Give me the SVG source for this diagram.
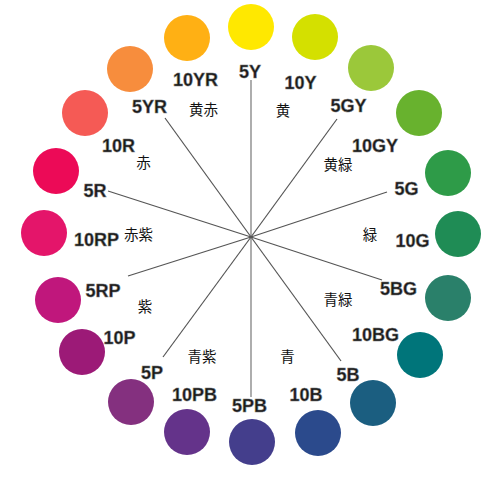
<svg xmlns="http://www.w3.org/2000/svg" width="495" height="478" viewBox="0 0 495 478">
<style>
.lab{font-family:"Liberation Sans",Arial,sans-serif;font-size:18px;font-weight:bold;fill:#1a1a1a;text-anchor:middle;stroke:#777;stroke-width:0.5}
.jp{font-family:"Noto Sans CJK JP","Noto Sans CJK SC",sans-serif;font-size:14.5px;fill:#111;text-anchor:middle}
.ln{stroke:#555;stroke-width:1.2;fill:none}
</style>
<rect width="495" height="478" fill="#fff"/>
<g id="connectors">
<line class="ln" x1="251" y1="80" x2="251" y2="397" stroke-width="2" style="stroke:#777"/>
<line class="ln" x1="251" y1="237" x2="165" y2="118"/>
<line class="ln" x1="251" y1="237" x2="337" y2="119"/>
<line class="ln" x1="251" y1="237" x2="108" y2="191"/>
<line class="ln" x1="251" y1="237" x2="387" y2="192"/>
<line class="ln" x1="251" y1="237" x2="128" y2="276"/>
<line class="ln" x1="251" y1="237" x2="382" y2="280"/>
<line class="ln" x1="251" y1="237" x2="163" y2="357"/>
<line class="ln" x1="251" y1="237" x2="341" y2="361"/>
</g>
<g id="n5Y"><circle cx="251" cy="27" r="23" fill="#FFE800"/><text class="lab" x="250" y="78">5Y</text></g>
<g id="n10Y"><circle cx="315" cy="37" r="23" fill="#D4E000"/><text class="lab" x="300.5" y="89">10Y</text></g>
<g id="n5GY"><circle cx="371" cy="68" r="23" fill="#9BC83A"/><text class="lab" x="348.5" y="112">5GY</text></g>
<g id="n10GY"><circle cx="419" cy="113" r="23" fill="#68B22E"/><text class="lab" x="375" y="152">10GY</text></g>
<g id="n5G"><circle cx="448" cy="173" r="23" fill="#2E9B48"/><text class="lab" x="406.5" y="195">5G</text></g>
<g id="n10G"><circle cx="458" cy="234" r="23" fill="#1F8C55"/><text class="lab" x="412.5" y="247">10G</text></g>
<g id="n5BG"><circle cx="448" cy="298" r="23" fill="#2A806A"/><text class="lab" x="398.5" y="295">5BG</text></g>
<g id="n10BG"><circle cx="420" cy="355" r="23" fill="#00757A"/><text class="lab" x="375.5" y="341">10BG</text></g>
<g id="n5B"><circle cx="373" cy="403" r="23" fill="#1B5E80"/><text class="lab" x="348" y="381">5B</text></g>
<g id="n10B"><circle cx="318" cy="433" r="23" fill="#2B4A8C"/><text class="lab" x="306" y="401">10B</text></g>
<g id="n5PB"><circle cx="252" cy="442" r="23" fill="#443E8C"/><text class="lab" x="249.5" y="412">5PB</text></g>
<g id="n10PB"><circle cx="187" cy="432" r="23" fill="#64338A"/><text class="lab" x="194.5" y="401">10PB</text></g>
<g id="n5P"><circle cx="131" cy="402" r="23" fill="#84307F"/><text class="lab" x="152" y="379">5P</text></g>
<g id="n10P"><circle cx="82" cy="352" r="23" fill="#9C1A77"/><text class="lab" x="119.5" y="344">10P</text></g>
<g id="n5RP"><circle cx="58" cy="300" r="23" fill="#C0177C"/><text class="lab" x="103" y="297">5RP</text></g>
<g id="n10RP"><circle cx="44" cy="233" r="23" fill="#E4156A"/><text class="lab" x="96.5" y="246">10RP</text></g>
<g id="n5R"><circle cx="56" cy="171" r="23" fill="#EC0A57"/><text class="lab" x="95" y="197">5R</text></g>
<g id="n10R"><circle cx="85" cy="113" r="23" fill="#F55A55"/><text class="lab" x="118.5" y="152">10R</text></g>
<g id="n5YR"><circle cx="130" cy="69" r="23" fill="#F78D3D"/><text class="lab" x="149.5" y="113">5YR</text></g>
<g id="n10YR"><circle cx="187" cy="38" r="23" fill="#FFB014"/><text class="lab" x="195.5" y="86">10YR</text></g>
<g id="hues">
<text class="jp" x="203.5" y="115">黄赤</text>
<text class="jp" x="283" y="116">黄</text>
<text class="jp" x="143.5" y="168">赤</text>
<text class="jp" x="338" y="170">黄緑</text>
<text class="jp" x="138.5" y="240">赤紫</text>
<text class="jp" x="370" y="240">緑</text>
<text class="jp" x="145" y="312">紫</text>
<text class="jp" x="338" y="305">青緑</text>
<text class="jp" x="202" y="362">青紫</text>
<text class="jp" x="287.5" y="362">青</text>
</g>
</svg>
